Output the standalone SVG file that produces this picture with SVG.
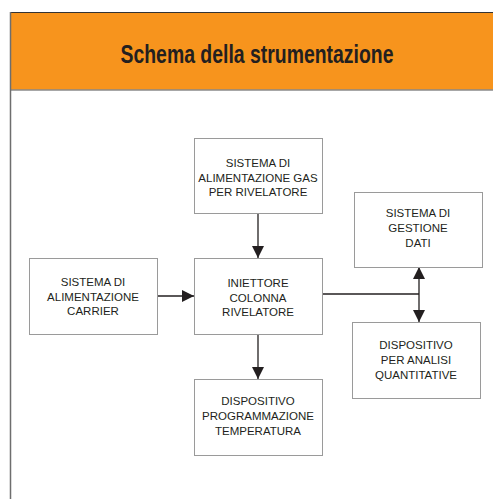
<svg xmlns="http://www.w3.org/2000/svg" width="493" height="499" viewBox="0 0 493 499">
<style>
.box{fill:#fff;stroke:#9a9a9a;stroke-width:1}
.t{font-family:"Liberation Sans",Arial,sans-serif;font-size:11.5px;fill:#231f20;text-anchor:middle}
.ln{stroke:#231f20;stroke-width:1.3;fill:none}
</style>
<defs>
<marker id="ah" markerWidth="12" markerHeight="12" viewBox="0 0 12 12" refX="12" refY="6" orient="auto" markerUnits="userSpaceOnUse">
<path d="M0,0 L12,6 L0,12 Z" fill="#231f20"/>
</marker>
</defs>
<rect x="0" y="0" width="493" height="499" fill="#fff"/>
<g id="header">
<rect x="10" y="12" width="483" height="78" fill="#f7941d"/>
<line x1="10" y1="12.5" x2="493" y2="12.5" stroke="#333" stroke-width="1.2"/>
<line x1="10" y1="90" x2="493" y2="90" stroke="#8a8a8a" stroke-width="1.5"/>
<line x1="10.5" y1="12" x2="10.5" y2="499" stroke="#6e6e6e" stroke-width="1.5"/>
<text x="257" y="63" font-family="'Liberation Sans',Arial,sans-serif" font-size="25" font-weight="bold" fill="#231f20" text-anchor="middle" textLength="273" lengthAdjust="spacingAndGlyphs">Schema della strumentazione</text>
</g>
<g id="connectors">
<line class="ln" x1="258" y1="213" x2="258" y2="258" marker-end="url(#ah)"/>
<line class="ln" x1="157" y1="296" x2="194" y2="296" marker-end="url(#ah)"/>
<line class="ln" x1="258" y1="334" x2="258" y2="379" marker-end="url(#ah)"/>
<line class="ln" x1="322" y1="294" x2="419" y2="294"/>
<line class="ln" x1="419" y1="294" x2="419" y2="267" marker-end="url(#ah)"/>
<line class="ln" x1="419" y1="294" x2="419" y2="322" marker-end="url(#ah)"/>
</g>
<g id="gas">
<rect class="box" x="194.5" y="138.5" width="128" height="75"/>
<text class="t" x="258" y="167">SISTEMA DI</text>
<text class="t" x="258" y="181.5">ALIMENTAZIONE GAS</text>
<text class="t" x="258" y="196">PER RIVELATORE</text>
</g>
<g id="iniettore">
<rect class="box" x="194.5" y="258.5" width="128" height="76"/>
<text class="t" x="258" y="287">INIETTORE</text>
<text class="t" x="258" y="301.5">COLONNA</text>
<text class="t" x="258" y="316">RIVELATORE</text>
</g>
<g id="carrier">
<rect class="box" x="29.5" y="258.5" width="128" height="76"/>
<text class="t" x="93" y="286">SISTEMA DI</text>
<text class="t" x="93" y="300.5">ALIMENTAZIONE</text>
<text class="t" x="93" y="315">CARRIER</text>
</g>
<g id="temperatura">
<rect class="box" x="194.5" y="379.5" width="128" height="76"/>
<text class="t" x="258" y="405">DISPOSITIVO</text>
<text class="t" x="258" y="420">PROGRAMMAZIONE</text>
<text class="t" x="258" y="435">TEMPERATURA</text>
</g>
<g id="dati">
<rect class="box" x="354.5" y="192.5" width="128" height="75"/>
<text class="t" x="418" y="217">SISTEMA DI</text>
<text class="t" x="418" y="232">GESTIONE</text>
<text class="t" x="418" y="247">DATI</text>
</g>
<g id="analisi">
<rect class="box" x="352.5" y="322.5" width="128" height="76"/>
<text class="t" x="416" y="348.5">DISPOSITIVO</text>
<text class="t" x="416" y="363.5">PER ANALISI</text>
<text class="t" x="416" y="378.5">QUANTITATIVE</text>
</g>
</svg>
